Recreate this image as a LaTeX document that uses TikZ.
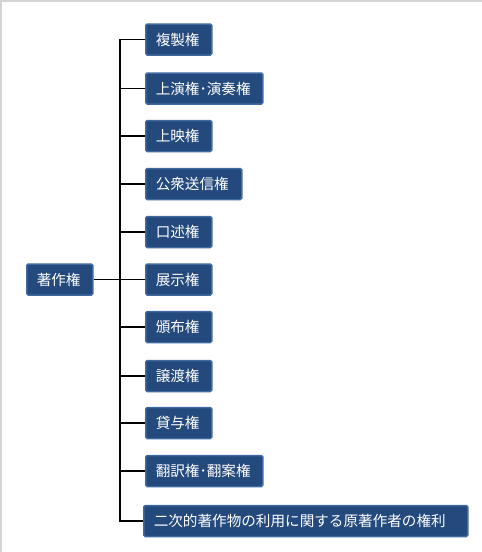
\documentclass[tikz,border=0pt]{standalone}
\usepackage{fontspec}
\newfontfamily\cjk{Noto Sans CJK JP}
\definecolor{boxfill}{HTML}{23497D}
\definecolor{boxedge}{HTML}{3F6A9F}
\definecolor{frame}{HTML}{D4D4D4}
\tikzset{
  rbox/.style={draw=boxedge, line width=1.5pt, fill=boxfill, rounded corners=1.5pt,
    text=white, font=\cjk\fontsize{14.6}{15}\selectfont, anchor=west,
    minimum height=31pt, inner xsep=10pt, inner ysep=0pt, align=left,
    text width=#1-20pt},
  conn/.style={draw=black, line width=1.2pt}
}
\begin{document}
\begin{tikzpicture}[x=1pt,y=-1pt]
\useasboundingbox (0,0) rectangle (482,552);
\fill[white] (0,0) rectangle (482,552);
\draw[frame, line width=1.5pt] (0.75,552) -- (0.75,0.75) -- (482,0.75);
\node[rbox=66pt] (root) at (26,279.5) {著作権};
\coordinate (trunk) at (120,279.5);
\node[rbox=66pt] (b1) at (145,39.5) {複製権};
\node[rbox=117pt] (b2) at (145,88.5) {上演権･演奏権};
\node[rbox=66pt] (b3) at (145,136) {上映権};
\node[rbox=96pt] (b4) at (145,184) {公衆送信権};
\node[rbox=66pt] (b5) at (145,232) {口述権};
\node[rbox=66pt] (b6) at (145,279.5) {展示権};
\node[rbox=66pt] (b7) at (145,327) {頒布権};
\node[rbox=66pt] (b8) at (145,376) {譲渡権};
\node[rbox=66pt] (b9) at (145,423) {貸与権};
\node[rbox=117pt] (b10) at (145,471) {翻訳権･翻案権};
\node[rbox=324pt] (b11) at (143,521) {二次的著作物の利用に関する原著作者の権利};
\draw[conn] (root.east) -- (trunk);
\draw[conn] (b1.west) -| (trunk) |- (b11.west);
\foreach \i in {2,...,10} {\draw[conn] (trunk |- b\i.west) -- (b\i.west);}
\end{tikzpicture}
\end{document}
